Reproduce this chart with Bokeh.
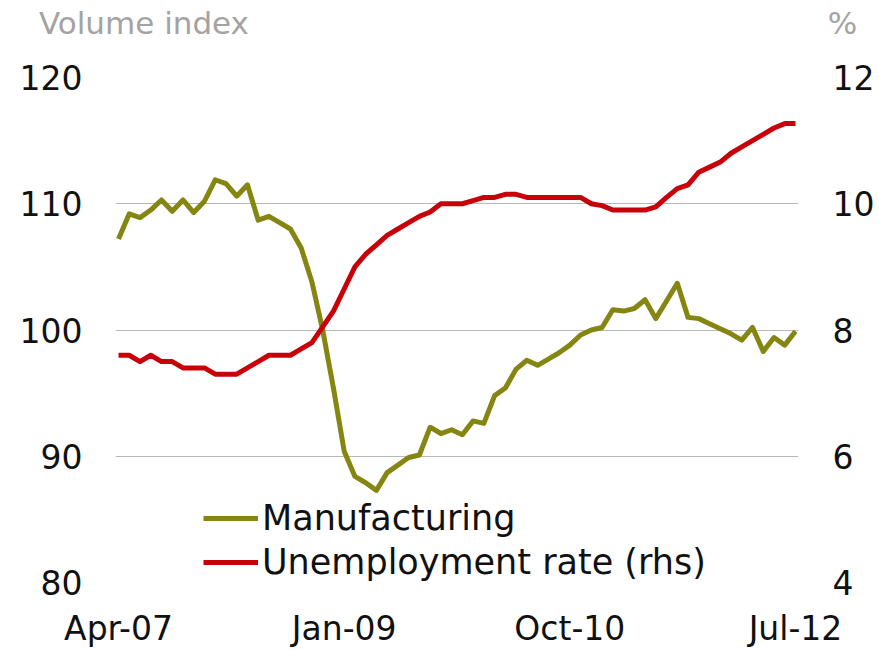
from bokeh.plotting import figure
from bokeh.models import (Range1d, LinearAxis, FixedTicker, Label, Legend, LegendItem,
                          ColumnDataSource)
from bokeh.embed import file_html
from bokeh.resources import INLINE

# ---- data (monthly, Apr-07 .. Jul-12) ----
months = ["Apr-07", "May-07", "Jun-07", "Jul-07", "Aug-07", "Sep-07", "Oct-07", "Nov-07", "Dec-07",
          "Jan-08", "Feb-08", "Mar-08", "Apr-08", "May-08", "Jun-08", "Jul-08", "Aug-08", "Sep-08",
          "Oct-08", "Nov-08", "Dec-08",
          "Jan-09", "Feb-09", "Mar-09", "Apr-09", "May-09", "Jun-09", "Jul-09", "Aug-09", "Sep-09",
          "Oct-09", "Nov-09", "Dec-09",
          "Jan-10", "Feb-10", "Mar-10", "Apr-10", "May-10", "Jun-10", "Jul-10", "Aug-10", "Sep-10",
          "Oct-10", "Nov-10", "Dec-10",
          "Jan-11", "Feb-11", "Mar-11", "Apr-11", "May-11", "Jun-11", "Jul-11", "Aug-11", "Sep-11",
          "Oct-11", "Nov-11", "Dec-11",
          "Jan-12", "Feb-12", "Mar-12", "Apr-12", "May-12", "Jun-12", "Jul-12"]

manufacturing = [107.2, 109.2, 108.9, 109.5, 110.3, 109.4, 110.3, 109.3, 110.2,
                 111.9, 111.6, 110.6, 111.5, 108.7, 109.0, 108.5, 108.0, 106.5, 103.8, 100.0, 95.4,
                 90.4, 88.4, 87.9, 87.3, 88.7, 89.3, 89.9, 90.1, 92.3, 91.8, 92.1, 91.7,
                 92.8, 92.6, 94.8, 95.4, 96.9, 97.6, 97.2, 97.7, 98.2, 98.8, 99.6, 100.0,
                 100.2, 101.6, 101.5, 101.7, 102.4, 100.9, 102.3, 103.7, 101.0, 100.9, 100.5, 100.1,
                 99.7, 99.2, 100.2, 98.3, 99.4, 98.8, 99.9]

unemployment = [7.6, 7.6, 7.5, 7.6, 7.5, 7.5, 7.4, 7.4, 7.4,
                7.3, 7.3, 7.3, 7.4, 7.5, 7.6, 7.6, 7.6, 7.7, 7.8, 8.05, 8.3,
                8.65, 9.0, 9.2, 9.35, 9.5, 9.6, 9.7, 9.8, 9.87, 10.0, 10.0, 10.0,
                10.05, 10.1, 10.1, 10.15, 10.15, 10.1, 10.1, 10.1, 10.1, 10.1, 10.1, 10.0,
                9.97, 9.9, 9.9, 9.9, 9.9, 9.95, 10.1, 10.24, 10.3, 10.5, 10.58, 10.66,
                10.8, 10.9, 11.0, 11.1, 11.2, 11.27, 11.27]

x_tick_labels = ["Apr-07", "Jan-09", "Oct-10", "Jul-12"]
left_ticks = [80, 90, 100, 110, 120]
right_ticks = [4, 6, 8, 10, 12]

idx = list(range(len(months)))
x_tick_pos = [months.index(m) for m in x_tick_labels]

src = ColumnDataSource(dict(x=idx, man=manufacturing, unemp=unemployment))

FONT = "DejaVu Sans"
OLIVE = "#858512"
RED = "#c8000a"
GRID = "#b8b8b8"
UNIT_GRAY = "#a3a3a3"

p = figure(width=877, height=650, output_backend="svg", toolbar_location=None,
           x_range=Range1d(-0.28, len(months) - 1 + 0.28),
           y_range=Range1d(80, 120),
           min_border_left=115, min_border_right=77, min_border_top=77, min_border_bottom=65)
p.outline_line_color = None
p.background_fill_color = "white"
p.border_fill_color = "white"

p.extra_y_ranges = {"rhs": Range1d(4, 12)}

ya = p.yaxis[0]
ya.ticker = FixedTicker(ticks=left_ticks)
xa = p.xaxis[0]
xa.ticker = FixedTicker(ticks=x_tick_pos)
xa.major_label_overrides = {pos: lab for pos, lab in zip(x_tick_pos, x_tick_labels)}

ra = LinearAxis(y_range_name="rhs", ticker=FixedTicker(ticks=right_ticks))
p.add_layout(ra, "right")

for ax, standoff in ((ya, 33), (ra, 34), (xa, 26)):
    ax.axis_line_color = None
    ax.major_tick_line_color = None
    ax.minor_tick_line_color = None
    ax.major_tick_in = 0
    ax.major_tick_out = 0
    ax.minor_tick_in = 0
    ax.minor_tick_out = 0
    ax.major_label_text_font = FONT
    ax.major_label_text_font_size = "33px"
    ax.major_label_text_color = "#111111"
    ax.major_label_standoff = standoff

p.xgrid.grid_line_color = None
p.ygrid.ticker = FixedTicker(ticks=left_ticks)
p.ygrid.grid_line_color = GRID
p.ygrid.grid_line_width = 1

r_man = p.line("x", "man", source=src, line_color=OLIVE, line_width=5, line_join="round")
r_un = p.line("x", "unemp", source=src, y_range_name="rhs", line_color=RED, line_width=5,
              line_join="round")

legend = Legend(items=[LegendItem(label="Manufacturing", renderers=[r_man]),
                       LegendItem(label="Unemployment rate (rhs)", renderers=[r_un])],
                location=(88, 0))
legend.background_fill_alpha = 0
legend.border_line_alpha = 0
legend.padding = 0
legend.margin = 0
legend.spacing = 4
legend.glyph_width = 55
legend.glyph_height = 40
legend.label_height = 40
legend.label_standoff = 4
legend.label_text_font = FONT
legend.label_text_font_size = "35px"
legend.label_text_color = "#111111"
p.add_layout(legend, "center")

# unit labels above the axes, placed in the top border panel (not clipped by the frame)
p.add_layout(Label(x=-7.4, y=124.35, text="Volume index", text_font=FONT, text_font_size="31px",
                   text_color=UNIT_GRAY, text_align="left", text_baseline="alphabetic"), "above")
p.add_layout(Label(x=66.0, y=124.35, text="%", text_font=FONT, text_font_size="31px",
                   text_color=UNIT_GRAY, text_align="left", text_baseline="alphabetic"), "above")

open("out.html", "w").write(file_html(p, INLINE))
